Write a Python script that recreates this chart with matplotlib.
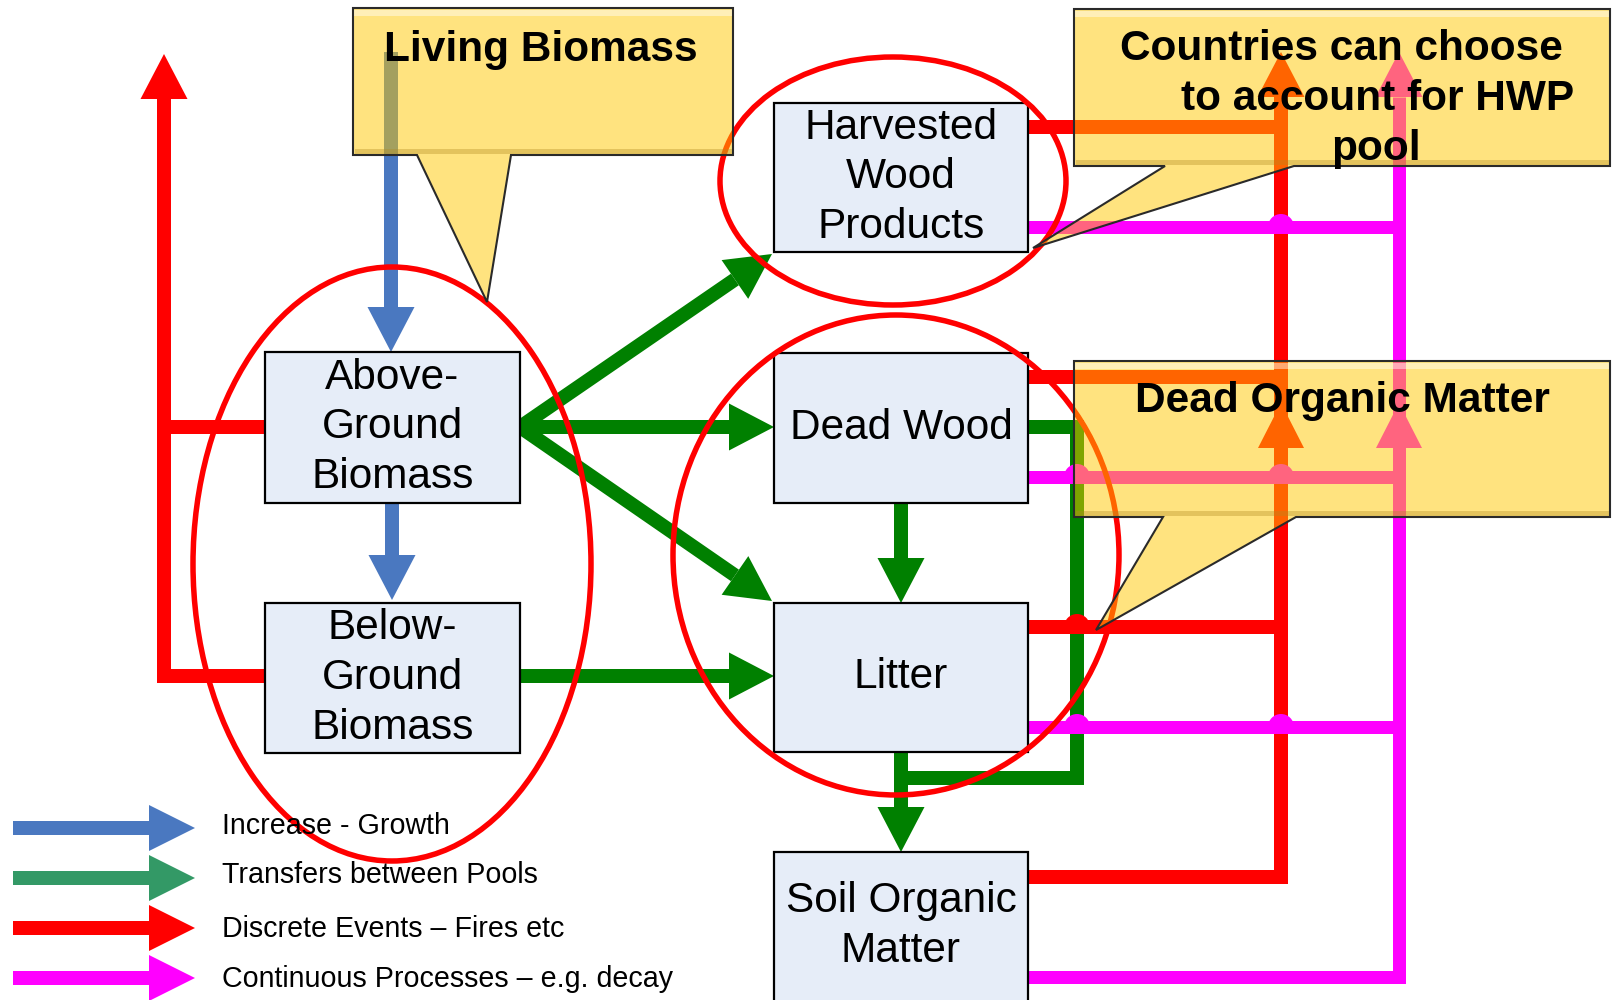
import matplotlib.pyplot as plt
from matplotlib.patches import Rectangle, Ellipse, Polygon, Wedge
import numpy as np

plt.rcParams['font.family'] = ['Liberation Sans', 'DejaVu Sans']

# carbon pools (boxes), pixel coords of the 1615x1000 picture
pool_labels = ["Above-\nGround\nBiomass", "Below-\nGround\nBiomass",
               "Harvested\nWood\nProducts", "Dead Wood", "Litter",
               "Soil Organic\nMatter"]
pool_left = [265, 265, 774, 774, 774, 774]
pool_top = [352, 603, 103, 353, 603, 852]
pool_right = [520, 520, 1028, 1028, 1028, 1028]
pool_bottom = [503, 753, 252, 503, 752, 1010]

legend_labels = ["Increase - Growth", "Transfers between Pools",
                 "Discrete Events \u2013 Fires etc",
                 "Continuous Processes \u2013 e.g. decay"]
legend_colors = ["#4A78C0", "#339966", "#FF0000", "#FF00FF"]
legend_y = [828, 878, 928, 978]
legend_text_y = [834, 883, 937, 987]

BLUE = "#4A78C0"
GREEN = "#008000"
RED = "#FF0000"
MAG = "#FF00FF"
PX = 72 / 100  # points per pixel

fig = plt.figure(figsize=(16.15, 10), dpi=100)
ax = fig.add_axes([0, 0, 1, 1])
ax.set_xlim(0, 1615)
ax.set_ylim(1000, 0)
ax.axis('off')


def line(pts, color, w=14, z=2):
    xs, ys = zip(*pts)
    ax.plot(xs, ys, color=color, lw=w * PX, solid_capstyle='butt',
            solid_joinstyle='miter', zorder=z)


def head(tip, frm, color, length=45, width=47, z=2):
    tip = np.array(tip, float)
    d = tip - np.array(frm, float)
    d /= np.hypot(*d)
    n = np.array([-d[1], d[0]])
    base = tip - d * length
    ax.add_patch(Polygon([tip, base + n * width / 2, base - n * width / 2],
                         closed=True, fc=color, lw=0, zorder=z))
    return base


def arrow(pts, color, w=14, z=2, length=45, width=47):
    base = head(pts[-1], pts[-2], color, length, width, z)
    line(list(pts[:-1]) + [tuple(base + 0)], color, w, z)


def hop(x, y, color, r=13, z=2.5):
    ax.add_patch(Wedge((x, y), r, 180, 360, fc=color, lw=0, zorder=z))


# boxes
for lab, x0, y0, x1, y1 in zip(pool_labels, pool_left, pool_top, pool_right, pool_bottom):
    ax.add_patch(Rectangle((x0, y0), x1 - x0, y1 - y0, fc="#E6EDF8",
                           ec="black", lw=1.6, zorder=3))
    cy = (y0 + y1) / 2 if y1 < 1000 else 926
    ax.text((x0 + x1) / 2, cy, lab, ha='center', va='center', fontsize=30.5,
            linespacing=1.31, zorder=3.5)

# increase (blue)
arrow([(391, 52), (391, 352)], BLUE)
arrow([(392, 503), (392, 600)], BLUE)

# transfers (green)
arrow([(520, 427), (772, 254)], GREEN)
arrow([(520, 427), (774, 427)], GREEN)
arrow([(520, 427), (772, 601)], GREEN)
arrow([(520, 676), (774, 676)], GREEN)
arrow([(901, 503), (901, 603)], GREEN)
line([(1028, 427), (1077, 427), (1077, 778), (901, 778)], GREEN)
arrow([(901, 752), (901, 852)], GREEN)

# discrete events (red)
line([(265, 676), (164, 676), (164, 427)], RED)
arrow([(265, 427), (164, 427), (164, 54)], RED)
line([(1028, 127), (1281, 127)], RED)
line([(1028, 377), (1281, 377)], RED)
line([(1028, 627), (1281, 627)], RED, z=2.2)
hop(1077, 627, RED)
arrow([(1028, 877), (1281, 877), (1281, 52)], RED)
head((1281, 403), (1281, 877), RED, width=46)

# continuous processes (magenta)
for yy in [227, 477, 727]:
    line([(1028, yy), (1399, yy)], MAG, w=13, z=2.4)
for xx, yy in [(1281, 227), (1077, 477), (1281, 477), (1077, 727), (1281, 727)]:
    hop(xx, yy, MAG)
arrow([(1028, 977), (1399, 977), (1399, 52)], MAG, w=13)
head((1399, 403), (1399, 977), MAG, width=46)

# pool groupings
for cx, cy, a, b in [(392, 564, 199, 297), (893, 181, 173, 124), (896, 555, 223, 240)]:
    ax.add_patch(Ellipse((cx, cy), 2 * a, 2 * b, fill=False, ec=RED,
                         lw=5.5 * PX, zorder=4))

# callouts
callouts = [
    [(353, 8), (733, 8), (733, 155), (511, 155), (487, 302), (417, 155), (353, 155)],
    [(1074, 9), (1610, 9), (1610, 166), (1294, 166), (1033, 248), (1165, 166), (1074, 166)],
    [(1074, 361), (1610, 361), (1610, 517), (1296, 517), (1096, 630), (1163, 517), (1074, 517)],
]
for pts in callouts:
    ax.add_patch(Polygon(pts, closed=True, fc=(1, 0.79, 0.0, 0.5),
                         ec="#2A2A2A", lw=1.5, zorder=5))
    x0, y0 = pts[0]
    x1, y1 = pts[2]
    ax.plot([x0 + 4, x1 - 4], [y0 + 5, y0 + 5], color="white", alpha=0.45,
            lw=6 * PX, zorder=5.1)
    ax.plot([x0 + 4, x1 - 4], [y1 - 4, y1 - 4], color="#B08A20", alpha=0.35,
            lw=5 * PX, zorder=5.1)

bold = dict(fontsize=30.5, fontweight='bold', ha='center', va='baseline', zorder=6)
ax.text(541, 61, "Living Biomass", **bold)
ax.text(1341, 60, "Countries can choose", **bold)
ax.text(1378, 110, "to account for HWP", **bold)
ax.text(1376, 160, "pool", **bold)
ax.text(1342, 412, "Dead Organic Matter", **bold)

# legend
for lab, col, yy, ty in zip(legend_labels, legend_colors, legend_y, legend_text_y):
    arrow([(13, yy), (195, yy)], col, w=14, z=3, length=46, width=46)
    ax.text(222, ty, lab, fontsize=20.6, ha='left', va='baseline', zorder=6)

fig.savefig("out.png", dpi=100)
